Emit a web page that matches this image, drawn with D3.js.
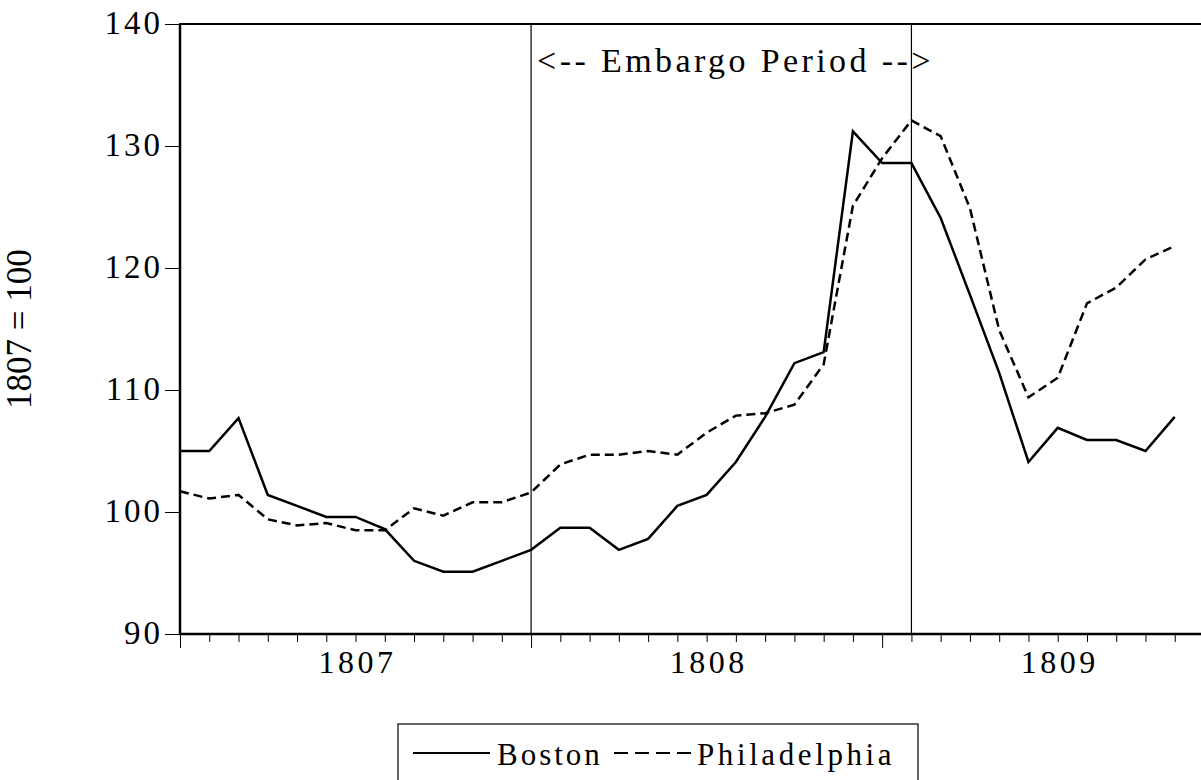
<html>
<script src="https://d3js.org/d3.v7.min.js"></script>
<style>
  body {margin: 0; background: white;}
  text {font-family: "Liberation Serif", "Times New Roman", serif; fill: black;}
</style>
<body>
<svg width=1201 height=780></svg>
<script>
// monthly observations, Jan 1807 - Nov 1809
const months = ['1807-01','1807-02','1807-03','1807-04','1807-05','1807-06','1807-07','1807-08','1807-09','1807-10','1807-11','1807-12',
                '1808-01','1808-02','1808-03','1808-04','1808-05','1808-06','1808-07','1808-08','1808-09','1808-10','1808-11','1808-12',
                '1809-01','1809-02','1809-03','1809-04','1809-05','1809-06','1809-07','1809-08','1809-09','1809-10','1809-11'];
const boston = [105.0, 105.0, 107.7, 101.4, 100.5, 99.6, 99.6, 98.6, 96.0, 95.1, 95.1, 96.0,
                96.9, 98.7, 98.7, 96.9, 97.8, 100.5, 101.4, 104.1, 107.8, 112.2, 113.1, 131.2,
                128.6, 128.6, 124.1, 117.8, 111.4, 104.1, 106.9, 105.9, 105.9, 105.0, 107.8];
const philadelphia = [101.7, 101.1, 101.4, 99.4, 98.9, 99.1, 98.5, 98.5, 100.3, 99.7, 100.8, 100.8,
                      101.6, 103.9, 104.7, 104.7, 105.0, 104.7, 106.5, 107.9, 108.1, 108.8, 112.1, 125.1,
                      129.0, 132.1, 130.8, 124.9, 114.9, 109.4, 111.0, 117.1, 118.4, 120.7, 121.8];
const yTicks = [90, 100, 110, 120, 130, 140];
const years = ['1807', '1808', '1809'];
const embargo = ['1808-01', '1809-02'];

const svg = d3.select('svg');

// x is month index, one extra month so the frame runs off the right edge
const xs = d3.scaleLinear().domain([0, months.length]).range([180, 1204]);
const ys = d3.scaleLinear().domain([90, 140]).range([634, 24]);
const xm = function(m) { return xs(months.indexOf(m)); };

// y axis: ticks to the left, spaced-out labels
const yAxis = d3.axisLeft(ys).tickValues(yTicks).tickSize(15).tickPadding(2);
const gy = svg.append('g').attr('transform', 'translate(180,0)').call(yAxis);
gy.select('.domain').remove();
gy.selectAll('.tick line').attr('stroke', 'black').attr('stroke-width', 1);
gy.selectAll('.tick text')
  .attr('font-family', '"Liberation Serif", serif')
  .attr('font-size', 33)
  .style('letter-spacing', '3px')
  .attr('dy', '0.3em');

// x axis: monthly minor ticks, longer ticks at start of each year
const xAxis = d3.axisBottom(xs)
  .tickValues(d3.range(0, months.length))
  .tickSize(8)
  .tickFormat('');
const gx = svg.append('g').attr('transform', 'translate(0,634)').call(xAxis);
gx.select('.domain').remove();
gx.selectAll('.tick line')
  .attr('stroke', 'black').attr('stroke-width', 1)
  .attr('y2', function(d) { return months[d].endsWith('-01') ? 14 : 8; });

// year labels in the middle of each year
svg.append('g').selectAll('text')
  .data(years)
  .enter()
  .append('text')
    .attr('x', function(d) { return xs(months.indexOf(d + '-01') + 6) + 2; })
    .attr('y', 673)
    .attr('text-anchor', 'middle')
    .attr('font-size', 32)
    .style('letter-spacing', '3.5px')
    .text(function(d) { return d; });

// embargo period markers
svg.append('g').selectAll('line')
  .data(embargo)
  .enter()
  .append('line')
    .attr('x1', xm).attr('x2', xm)
    .attr('y1', ys(140)).attr('y2', ys(90))
    .attr('stroke', 'black').attr('stroke-width', 1.2);

svg.append('text')
  .attr('x', xm(embargo[0]) + 6)
  .attr('y', 72)
  .attr('font-size', 34)
  .style('letter-spacing', '3.4px')
  .text('<-- Embargo Period -->');

// frame: left, top and bottom
svg.append('line').attr('x1', 180).attr('x2', 180).attr('y1', ys(140)).attr('y2', ys(90))
  .attr('stroke', 'black').attr('stroke-width', 2.5);
svg.append('line').attr('x1', 179).attr('x2', xs(months.length)).attr('y1', ys(90)).attr('y2', ys(90))
  .attr('stroke', 'black').attr('stroke-width', 2.5);
svg.append('line').attr('x1', 179).attr('x2', xs(months.length)).attr('y1', ys(140)).attr('y2', ys(140))
  .attr('stroke', 'black').attr('stroke-width', 2);

// series
const line = function(vals) {
  return d3.line()
    .x(function(d, i) { return xs(i); })
    .y(function(d) { return ys(d); })(vals);
};
svg.append('path').attr('d', line(boston))
  .attr('fill', 'none').attr('stroke', 'black').attr('stroke-width', 2.5)
  .attr('stroke-linejoin', 'miter');
svg.append('path').attr('d', line(philadelphia))
  .attr('fill', 'none').attr('stroke', 'black').attr('stroke-width', 2.5)
  .attr('stroke-dasharray', '9,5');

// y axis title
svg.append('text')
  .attr('transform', 'translate(31,329) rotate(-90)')
  .attr('text-anchor', 'middle')
  .attr('font-size', 35)
  .text('1807 = 100');

// legend box
svg.append('rect')
  .attr('x', 398).attr('y', 724).attr('width', 520).attr('height', 80)
  .attr('fill', 'white').attr('stroke', 'black').attr('stroke-width', 1.2);
svg.append('line').attr('x1', 413).attr('x2', 490).attr('y1', 753).attr('y2', 753)
  .attr('stroke', 'black').attr('stroke-width', 2);
svg.append('text').attr('x', 497).attr('y', 765).attr('font-size', 31)
  .style('letter-spacing', '3px').text('Boston');
svg.append('line').attr('x1', 614).attr('x2', 691).attr('y1', 753).attr('y2', 753)
  .attr('stroke', 'black').attr('stroke-width', 2).attr('stroke-dasharray', '14,7');
svg.append('text').attr('x', 697).attr('y', 765).attr('font-size', 31)
  .style('letter-spacing', '3.6px').text('Philadelphia');
</script>
</body>
</html>
